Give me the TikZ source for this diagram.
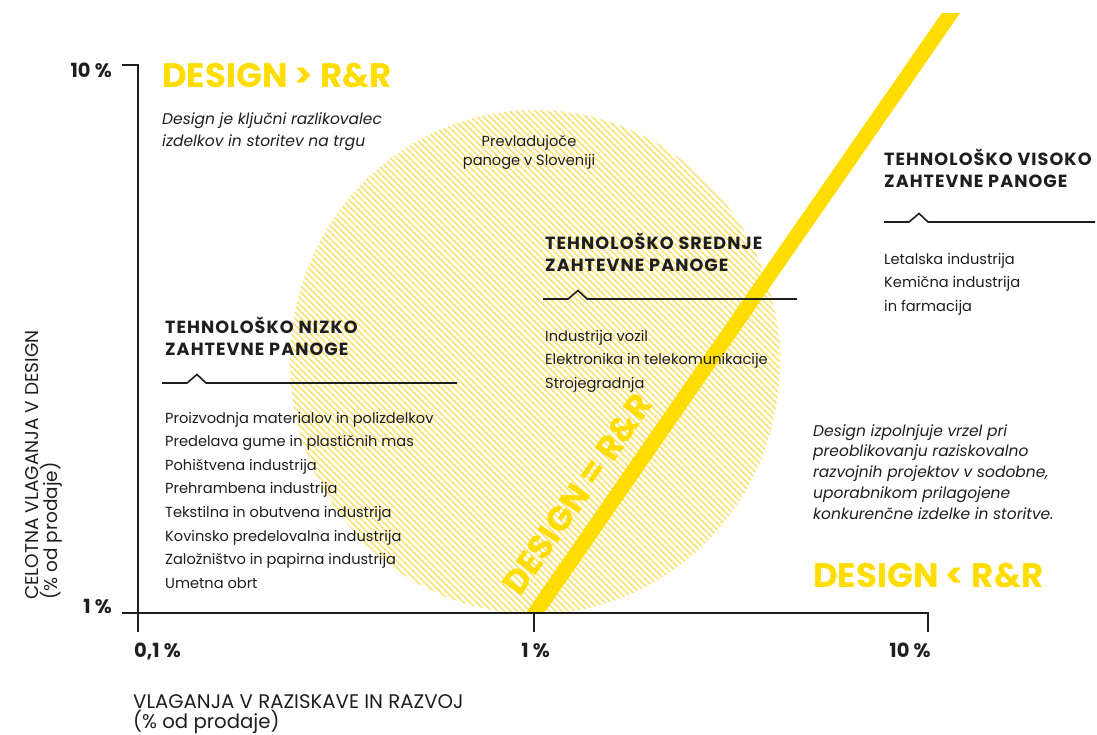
\documentclass[tikz,border=0pt]{standalone}
\usepackage{fontspec}
\setmainfont{Poppins}
\newfontfamily\headfont{Poppins}
\newfontfamily\groupfont{Poppins}[LetterSpace=6]
\usetikzlibrary{calc}
\definecolor{signyellow}{RGB}{255,221,0}
\definecolor{hatchyellow}{RGB}{251,227,115}
\definecolor{ink}{RGB}{30,30,30}

\tikzset{
  bigtitle/.style={inner sep=0pt, anchor=base west, text=signyellow, font=\headfont\bfseries\fontsize{34}{34}\selectfont},
  grouptitle/.style={inner sep=0pt, anchor=base west, text=ink, font=\groupfont\bfseries\fontsize{17.6}{17.6}\selectfont},
  groupitem/.style={inner sep=0pt, anchor=base west, text=ink, font=\fontsize{14.6}{14.6}\selectfont},
  note/.style={inner sep=0pt, anchor=base west, text=ink, font=\itshape\fontsize{15.5}{15.5}\selectfont},
  pct/.style={inner sep=0pt, anchor=base, text=ink, font=\headfont\bfseries\fontsize{19.5}{19.5}\selectfont},
  axistitle/.style={inner sep=0pt, anchor=base west, text=ink, font=\fontsize{18.5}{18.5}\selectfont},
  axisline/.style={draw=ink, line width=2pt},
  divline/.style={draw=ink, line width=1.6pt},
  hatch/.style={draw=hatchyellow, line width=1.6pt},
  band/.style={draw=signyellow, line width=15pt},
  pics/divider/.style={code={\draw[divline] (0,0) -- (25,0) -- (35,-8.5) -- (44,0) -- (#1,0);}}
}

\begin{document}
\begin{tikzpicture}[x=1pt,y=-1pt]
\useasboundingbox (0,0) rectangle (1097,734);
% Hatched disc of the prevailing industries
\begin{scope}
  \clip (0,0) rectangle (1097,611);
  \clip (535,362) ellipse [x radius=245, y radius=252];
  \foreach \c in {-350,-343.6,...,720} {\draw[hatch] (\c+80,80) -- (\c+640,640);}
\end{scope}
\node[groupitem, anchor=base] (dom1) at (529,146.7) {Prevladujoče};
\node[groupitem, anchor=base] (dom2) at (529,165) {panoge v Sloveniji};

% Yellow band where design = R&R
\coordinate (bandlow) at (535,613);
\coordinate (bandhigh) at (951,13);
\begin{scope}
  \clip (0,13) rectangle (1097,613);
  \draw[band] ($(bandlow)!-0.1!(bandhigh)$) -- ($(bandhigh)!-0.1!(bandlow)$);
\end{scope}
\node[bigtitle, rotate=55.3] (equal) at (520,598) {DESIGN = R\&R};

% Axes
\draw[axisline] (122,65) -- (138,65) -- (138,632);
\draw[axisline] (122,613) -- (928,613) -- (928,632);
\draw[axisline] (534,613) -- (534,632);
\node[pct, anchor=base east] (ymax) at (112,77) {10 \%};
\node[pct, anchor=base east] (ymin) at (112,613) {1 \%};
\node[pct] (xmin) at (157.5,657) {0,1 \%};
\node[pct] (xmid) at (535.5,657) {1 \%};
\node[pct] (xmax) at (910,657) {10 \%};
\node[axistitle, font=\fontsize{19.7}{19.7}\selectfont] (xtitle1) at (133,708) {VLAGANJA V RAZISKAVE IN RAZVOJ};
\node[axistitle, font=\fontsize{19.7}{19.7}\selectfont] (xtitle2) at (133,728) {(\% od prodaje)};
\node[axistitle, rotate=90] (ytitle1) at (38,600) {CELOTNA VLAGANJA V DESIGN};
\node[axistitle, rotate=90] (ytitle2) at (57,600) {(\% od prodaje)};

% Quadrant headings and notes
\node[bigtitle] (above) at (162,87) {DESIGN > R\&R};
\node[bigtitle] (below) at (813,587) {DESIGN < R\&R};
\foreach \txt [count=\i from 0] in {Design je ključni razlikovalec, izdelkov in storitev na trgu}
  \node[note] (abovenote\i) at (162,124+22.5*\i) {\txt};
\foreach \txt [count=\i from 0] in {Design izpolnjuje vrzel pri, preoblikovanju raziskovalno,
    razvojnih projektov v sodobne{,}, uporabnikom prilagojene, konkurenčne izdelke in storitve.}
  \node[note] (belownote\i) at (813,436+20.8*\i) {\txt};

% High-tech industries
\node[grouptitle] (hightitle1) at (884,165) {TEHNOLOŠKO VISOKO};
\node[grouptitle] (hightitle2) at (884,187) {ZAHTEVNE PANOGE};
\pic (highdiv) at (884,222) {divider=211};
\foreach \txt [count=\i from 0] in {Letalska industrija, Kemična industrija, in farmacija}
  \node[groupitem] (high\i) at (884,264+23.6*\i) {\txt};

% Medium-tech industries
\node[grouptitle] (midtitle1) at (545,249.5) {TEHNOLOŠKO SREDNJE};
\node[grouptitle] (midtitle2) at (545,271.5) {ZAHTEVNE PANOGE};
\pic (middiv) at (543,299) {divider=254};
\foreach \txt [count=\i from 0] in {Industrija vozil, Elektronika in telekomunikacije, Strojegradnja}
  \node[groupitem] (mid\i) at (545,341+23.6*\i) {\txt};

% Low-tech industries
\node[grouptitle] (lowtitle1) at (165,333.3) {TEHNOLOŠKO NIZKO};
\node[grouptitle] (lowtitle2) at (165,355) {ZAHTEVNE PANOGE};
\pic (lowdiv) at (162,383) {divider=295};
\foreach \txt [count=\i from 0] in {Proizvodnja materialov in polizdelkov, Predelava gume in plastičnih mas,
    Pohištvena industrija, Prehrambena industrija, Tekstilna in obutvena industrija,
    Kovinsko predelovalna industrija, Založništvo in papirna industrija, Umetna obrt}
  \node[groupitem] (low\i) at (165,423+23.6*\i) {\txt};
\end{tikzpicture}
\end{document}
